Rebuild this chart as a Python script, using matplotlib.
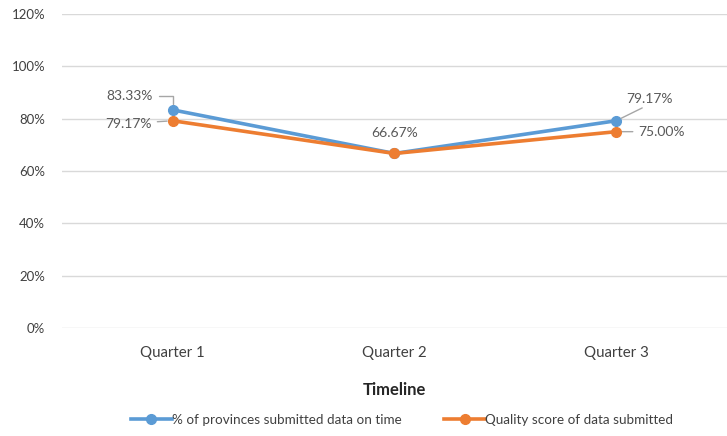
import matplotlib.pyplot as plt

# Chart data
quarters = ['Quarter 1', 'Quarter 2', 'Quarter 3']
on_time = [83.33, 66.67, 79.17]
quality = [79.17, 66.67, 75.00]
y_ticks = [0, 20, 40, 60, 80, 100, 120]

plt.rcParams['font.family'] = ['Lato', 'DejaVu Sans']
text_col = '#595959'
tick_col = '#404040'
grid_col = '#D9D9D9'
blue = '#5B9BD5'
orange = '#ED7D31'
leader = '#A6A6A6'

fig = plt.figure(figsize=(7.27, 4.36), dpi=100)
ax = fig.add_axes([0.085, 0.248, 0.915, 0.72])

x = list(range(len(quarters)))
ax.plot(x, on_time, color=blue, lw=2.6, marker='o', ms=7,
        label='% of provinces submitted data on time', zorder=3)
ax.plot(x, quality, color=orange, lw=2.6, marker='o', ms=7,
        label='Quality score of data submitted', zorder=4)

ax.set_xlim(-0.5, 2.5)
ax.set_ylim(0, 120)
ax.set_yticks(y_ticks)
ax.set_yticklabels([f'{v}%' for v in y_ticks])
ax.set_xticks(x)
ax.set_xticklabels(quarters)
ax.tick_params(length=0, colors=tick_col, labelsize=9.5)
ax.tick_params(axis='x', pad=13, labelsize=10.8)
ax.tick_params(axis='y', pad=12)
ax.grid(axis='y', color=grid_col, lw=1)
ax.set_axisbelow(True)
for s in ax.spines.values():
    s.set_visible(False)

ax.set_xlabel('Timeline', fontsize=12, fontweight='bold', color='#262626', labelpad=16)

# data labels
lbl = dict(fontsize=10, color=text_col, textcoords='offset points')
ax.annotate(f'{on_time[0]:.2f}%', (0, on_time[0]), xytext=(-14, 10), ha='right', va='center',
            arrowprops=dict(arrowstyle='-', color=leader, lw=1, shrinkA=2, shrinkB=4,
                            connectionstyle='angle,angleA=0,angleB=90,rad=0'), **lbl)
ax.annotate(f'{quality[0]:.2f}%', (0, quality[0]), xytext=(-15, -2), ha='right', va='center',
            arrowprops=dict(arrowstyle='-', color=leader, lw=1, shrinkA=2, shrinkB=4), **lbl)
ax.annotate(f'{on_time[1]:.2f}%', (1, on_time[1]), xytext=(0, 14.5), ha='center', va='center', **lbl)
ax.annotate(f'{on_time[2]:.2f}%', (2, on_time[2]), xytext=(7, 16), ha='left', va='center',
            arrowprops=dict(arrowstyle='-', color=leader, lw=1, shrinkA=1, shrinkB=4,
                            relpos=(0.5, 0)), **lbl)
ax.annotate(f'{quality[2]:.2f}%', (2, quality[2]), xytext=(16, 0), ha='left', va='center',
            arrowprops=dict(arrowstyle='-', color=leader, lw=1, shrinkA=2, shrinkB=4), **lbl)

fig.legend(loc='lower center', bbox_to_anchor=(0.553, -0.005), ncol=2, frameon=False,
           fontsize=9.7, labelcolor=tick_col, handlelength=3, handletextpad=0,
           columnspacing=3.2)

fig.savefig('out.png', dpi=100)
